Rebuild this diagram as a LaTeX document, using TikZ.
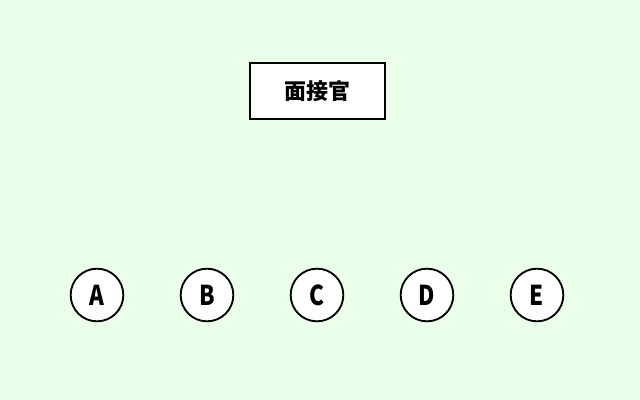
\documentclass[tikz,border=0pt]{standalone}
\usepackage{fontspec}
\setmainfont{Noto Sans CJK JP}
\newfontfamily\lettersfont{Noto Sans CJK JP}[FakeStretch=0.82]
\definecolor{bggreen}{RGB}{234,254,234}
\begin{document}
\begin{tikzpicture}[x=0.75pt,y=-0.75pt,
  person/.style={draw, circle, line width=1.4pt, fill=white, minimum size=39.5pt, inner sep=0pt, font=\lettersfont\bfseries\fontsize{20.5pt}{22pt}\selectfont}]
\fill[bggreen] (0,0) rectangle (640,400);
\useasboundingbox (0,0) rectangle (640,400);
\node[draw, black, line width=1.5pt, fill=white, minimum width=101pt, minimum height=42.5pt, font=\bfseries\fontsize{16.5pt}{18pt}\selectfont] (boss) at (317.5,91) {面接官};
\node[person] (A) at (97,295) {A};
\node[person] (B) at (207,295) {B};
\node[person] (C) at (317,295) {C};
\node[person] (D) at (427,295) {D};
\node[person] (E) at (537,295) {E};
\end{tikzpicture}
\end{document}
